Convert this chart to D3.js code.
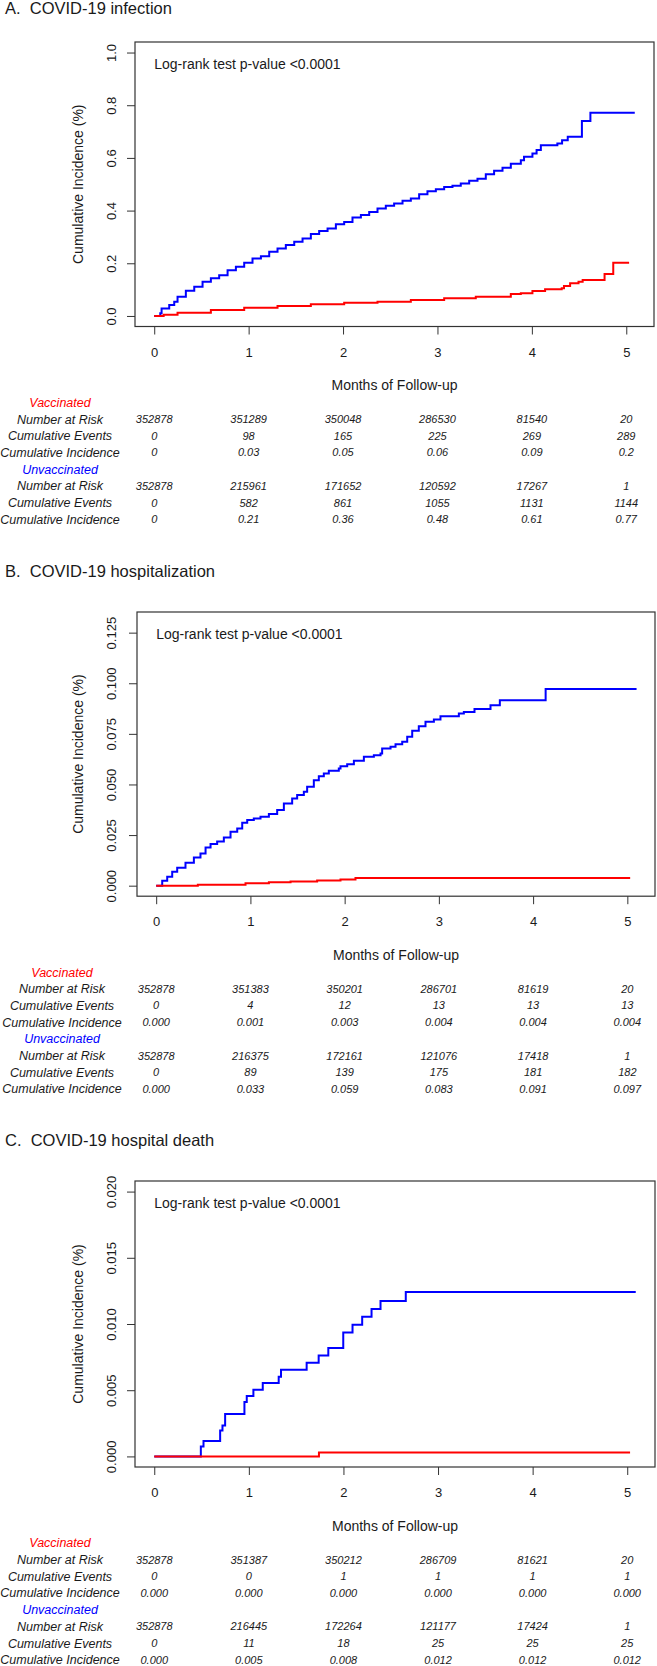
<!DOCTYPE html>
<html>
<head>
<meta charset="utf-8">
<script src="https://cdn.jsdelivr.net/npm/d3@7"></script>
<style>
body { margin: 0; background: #fff; }
svg text { font-family: "Liberation Sans", Arial, sans-serif; fill: #1a1a1a; }
</style>
</head>
<body>
<svg id="chart" width="657" height="1666"></svg>
<script>
// shared bits
var monthTicks = [0, 1, 2, 3, 4, 5];
var rowLabels = ["Number at Risk", "Cumulative Events", "Cumulative Incidence"];
var pText = "Log-rank test p-value <0.0001";

// A. infection
var infTitle = "A.  COVID-19 infection";
var infYTicks = [0, 0.2, 0.4, 0.6, 0.8, 1.0];
var infUnvacc = [[0,0],[0.064,0.010],[0.078,0.028],[0.159,0.042],[0.212,0.054],[0.247,0.073],[0.335,0.096],
    [0.424,0.111],[0.512,0.130],[0.600,0.143],[0.688,0.155],[0.777,0.174],[0.865,0.187],[0.953,0.202],
    [1.041,0.218],[1.130,0.227],[1.218,0.244],[1.306,0.256],[1.394,0.269],[1.483,0.282],[1.571,0.294],
    [1.659,0.311],[1.747,0.323],[1.836,0.332],[1.924,0.348],[2.012,0.357],[2.100,0.374],[2.189,0.383],
    [2.277,0.395],[2.365,0.408],[2.453,0.418],[2.541,0.427],[2.630,0.437],[2.718,0.446],[2.806,0.462],
    [2.894,0.473],[2.983,0.481],[3.071,0.490],[3.159,0.494],[3.247,0.503],[3.336,0.513],[3.424,0.521],
    [3.512,0.538],[3.600,0.551],[3.689,0.563],[3.777,0.578],[3.883,0.591],[3.917,0.604],[4.006,0.617],
    [4.050,0.630],[4.095,0.648],[4.270,0.655],[4.320,0.667],[4.380,0.680],[4.530,0.740],[4.620,0.771],
    [5.090,0.771]];
var infVacc = [[0,0],[0.10,0.005],[0.247,0.0126],[0.600,0.0227],[0.953,0.0316],[1.306,0.0379],[1.659,0.0442],
    [2.012,0.0505],[2.365,0.0543],[2.718,0.0606],[3.071,0.0669],[3.406,0.0732],[3.777,0.0833],[3.883,0.0859],
    [4.006,0.0948],[4.140,0.101],[4.316,0.105],[4.340,0.114],[4.405,0.124],[4.494,0.130],[4.538,0.1365],
    [4.770,0.159],[4.862,0.202],[5.030,0.202]];
var infVaccTable = [["352878","351289","350048","286530","81540","20"],
    ["0","98","165","225","269","289"],
    ["0","0.03","0.05","0.06","0.09","0.2"]];
var infUnvaccTable = [["352878","215961","171652","120592","17267","1"],
    ["0","582","861","1055","1131","1144"],
    ["0","0.21","0.36","0.48","0.61","0.77"]];

// B. hospitalization
var hospTitle = "B.  COVID-19 hospitalization";
var hospYTicks = [0, 0.025, 0.05, 0.075, 0.1, 0.125];
var hospUnvacc = [[0,0],[0.064,0.00247],[0.117,0.00444],[0.170,0.00691],[0.223,0.00888],[0.311,0.01135],
    [0.400,0.01398],[0.470,0.01595],[0.524,0.01891],[0.577,0.02056],[0.647,0.02188],[0.718,0.02385],
    [0.789,0.02664],[0.860,0.02829],[0.913,0.03109],[0.966,0.0324],[1.036,0.03322],[1.107,0.03405],
    [1.196,0.03536],[1.284,0.03734],[1.355,0.04063],[1.443,0.04309],[1.496,0.04474],[1.567,0.04638],
    [1.602,0.04885],[1.673,0.05214],[1.726,0.05411],[1.779,0.05543],[1.832,0.05674],[1.938,0.05789],
    [1.956,0.05905],[2.027,0.06003],[2.098,0.06168],[2.204,0.06365],[2.310,0.06447],[2.381,0.0653],
    [2.398,0.06776],[2.487,0.06859],[2.540,0.0699],[2.611,0.07105],[2.664,0.07352],[2.717,0.07648],
    [2.787,0.07878],[2.858,0.08092],[2.947,0.08207],[3.017,0.08372],[3.212,0.0850],[3.265,0.08586],
    [3.378,0.08734],[3.548,0.08914],[3.647,0.09161],[4.133,0.0972],[5.098,0.0972]];
var hospVacc = [[0,0],[0.442,0.0005],[0.948,0.00115],[1.196,0.00165],[1.426,0.0021],[1.708,0.0026],
    [1.956,0.0031],[2.115,0.0038],[5.030,0.0038]];
var hospVaccTable = [["352878","351383","350201","286701","81619","20"],
    ["0","4","12","13","13","13"],
    ["0.000","0.001","0.003","0.004","0.004","0.004"]];
var hospUnvaccTable = [["352878","216375","172161","121076","17418","1"],
    ["0","89","139","175","181","182"],
    ["0.000","0.033","0.059","0.083","0.091","0.097"]];

// C. hospital death
var deathTitle = "C.  COVID-19 hospital death";
var deathYTicks = [0, 0.005, 0.01, 0.015, 0.02];
var deathUnvacc = [[0,0],[0.4924,0.000756],[0.5206,0.00116],[0.6965,0.00196],[0.7211,0.00234],[0.7492,0.0032],
    [0.9532,0.0041],[0.9778,0.00456],[1.048,0.00504],[1.147,0.00554],[1.3155,0.00602],[1.340,0.00655],
    [1.611,0.00708],[1.738,0.00763],[1.840,0.00819],[1.998,0.00935],[2.096,0.00995],[2.198,0.01055],
    [2.297,0.01113],[2.392,0.01174],[2.659,0.01242],[5.090,0.01242]];
var deathVacc = [[0,0],[1.741,0.0003],[5.030,0.0003]];
var deathVaccTable = [["352878","351387","350212","286709","81621","20"],
    ["0","0","1","1","1","1"],
    ["0.000","0.000","0.000","0.000","0.000","0.000"]];
var deathUnvaccTable = [["352878","216445","172264","121177","17424","1"],
    ["0","11","18","25","25","25"],
    ["0.000","0.005","0.008","0.012","0.012","0.012"]];

var panels = [
    {title: infTitle, titleY: 8, box: {l: 135, r: 654, t: 42, b: 326.5}, ymax: 1, yTicks: infYTicks,
     fmt: d3.format(".1f"), blue: infUnvacc, red: infVacc, vTab: infVaccTable, uTab: infUnvaccTable, labX: 60},
    {title: hospTitle, titleY: 571, box: {l: 137, r: 655, t: 612, b: 896.2}, ymax: 0.13, yTicks: hospYTicks,
     fmt: d3.format(".3f"), blue: hospUnvacc, red: hospVacc, vTab: hospVaccTable, uTab: hospUnvaccTable, labX: 62},
    {title: deathTitle, titleY: 1140, box: {l: 135, r: 655, t: 1181, b: 1467}, ymax: 0.02, yTicks: deathYTicks,
     fmt: d3.format(".3f"), blue: deathUnvacc, red: deathVacc, vTab: deathVaccTable, uTab: deathUnvaccTable, labX: 60}
];

var xmax = 5.09;
var svg = d3.select("#chart");

function drawPanel(p) {
    var b = p.box;
    var g = svg.append("g");
    var x = d3.scaleLinear().domain([-0.04 * xmax, 1.04 * xmax]).range([b.l, b.r]);
    var y = d3.scaleLinear().domain([-0.04 * p.ymax, 1.04 * p.ymax]).range([b.b, b.t]);

    // keep the double space after the panel letter
    g.append("text").attr("x", 5).attr("y", p.titleY).attr("dy", "0.35em")
        .style("font-size", "16.5px").style("white-space", "pre").text(p.title);

    // y axis, labels turned like in R
    var ya = g.append("g").attr("transform", "translate(" + b.l + ",0)")
        .call(d3.axisLeft(y).tickValues(p.yTicks).tickFormat(p.fmt).tickSize(8));
    ya.select(".domain").remove();
    ya.selectAll("line").attr("stroke", "#333");
    ya.selectAll("text")
        .attr("x", 0).attr("y", -(b.l - 111)).attr("dy", "0.35em")
        .attr("transform", "rotate(-90)")
        .attr("text-anchor", "middle")
        .style("font-size", "13px").style("font-family", null);

    var xa = g.append("g").attr("transform", "translate(0," + b.b + ")")
        .call(d3.axisBottom(x).tickValues(monthTicks).tickFormat(d3.format("d")).tickSize(8));
    xa.select(".domain").remove();
    xa.selectAll("line").attr("stroke", "#333");
    xa.selectAll("text").attr("y", 25.5).attr("dy", "0.35em")
        .style("font-size", "13px").style("font-family", null);

    g.append("rect").attr("x", b.l).attr("y", b.t)
        .attr("width", b.r - b.l).attr("height", b.b - b.t)
        .attr("fill", "none").attr("stroke", "#333").attr("stroke-width", 1.2);

    g.append("text")
        .attr("transform", "translate(78," + ((b.t + b.b) / 2) + ") rotate(-90)")
        .attr("text-anchor", "middle").attr("dy", "0.35em")
        .style("font-size", "14px").text("Cumulative Incidence (%)");

    g.append("text").attr("x", (b.l + b.r) / 2).attr("y", b.b + 59).attr("dy", "0.35em")
        .attr("text-anchor", "middle").style("font-size", "14px").text("Months of Follow-up");

    g.append("text").attr("x", x(0)).attr("y", b.t + 22).attr("dy", "0.35em")
        .style("font-size", "14px").text(pText);

    var line = d3.line().x(function(d) { return x(d[0]); }).y(function(d) { return y(d[1]); })
        .curve(d3.curveStepAfter);
    g.append("path").datum(p.blue).attr("d", line)
        .attr("fill", "none").attr("stroke", "#0000ff").attr("stroke-width", 2);
    g.append("path").datum(p.red).attr("d", line)
        .attr("fill", "none").attr("stroke", "#ff0000").attr("stroke-width", 2);

    // risk table under the plot
    var rowH = 16.7;
    var top = b.b + 76;
    var groups = [{name: "Vaccinated", color: "#ff0000", rows: p.vTab},
                  {name: "Unvaccinated", color: "#0000ff", rows: p.uTab}];
    groups.forEach(function(grp, gi) {
        var gy = top + gi * 4 * rowH;
        g.append("text").attr("x", p.labX).attr("y", gy).attr("dy", "0.35em")
            .attr("text-anchor", "middle").style("font-size", "12.5px").style("font-style", "italic")
            .style("fill", grp.color).text(grp.name);
        grp.rows.forEach(function(vals, ri) {
            var ry = gy + (ri + 1) * rowH;
            g.append("text").attr("x", p.labX).attr("y", ry).attr("dy", "0.35em")
                .attr("text-anchor", "middle").style("font-size", "12.5px").style("font-style", "italic")
                .text(rowLabels[ri]);
            g.selectAll(null).data(vals).enter().append("text")
                .attr("x", function(d, i) { return x(monthTicks[i]); })
                .attr("y", ry).attr("dy", "0.35em")
                .attr("text-anchor", "middle").style("font-size", "11px").style("font-style", "italic")
                .text(function(d) { return d; });
        });
    });
}

panels.forEach(drawPanel);
</script>
</body>
</html>
